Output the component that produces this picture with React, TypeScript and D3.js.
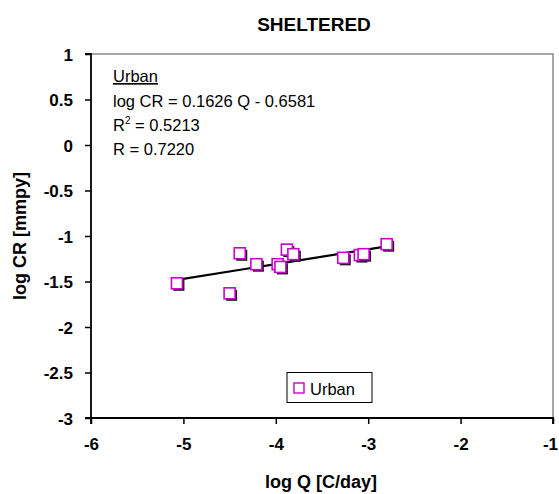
import React, { useEffect, useRef } from 'react';
import * as d3 from 'd3';

// values
const logQ = [-5.07, -4.39, -4.5, -4.21, -3.98, -3.95, -3.88, -3.81, -3.27, -3.09, -3.05, -2.8];
const logCR = [-1.52, -1.19, -1.63, -1.31, -1.31, -1.34, -1.15, -1.2, -1.24, -1.21, -1.2, -1.09];
const xTicks = [-6, -5, -4, -3, -2, -1];
const yTicks = [1, 0.5, 0, -0.5, -1, -1.5, -2, -2.5, -3];
const fitSlope = 0.1626;
const fitIntercept = -0.6581;
const annotation = ['log CR = 0.1626 Q - 0.6581', '0.5213', 'R = 0.7220'];

const W = 559;
const H = 494;
const FONT = '"Liberation Sans", Arial, sans-serif';

const App = () => {
  const ref = useRef<SVGSVGElement>(null);

  useEffect(() => {
    const svg = d3.select(ref.current);
    svg.selectAll('*').remove();

    const left = 91, right = 553, top = 54, bottom = 418;
    const x = d3.scaleLinear().domain([-6, -1]).range([left, right]);
    const y = d3.scaleLinear().domain([-3, 1]).range([bottom, top]);

    svg.append('rect').attr('width', W).attr('height', H).attr('fill', '#fff');

    // plot border (top/right grey)
    svg.append('path')
      .attr('d', `M${left},${top}H${right}V${bottom}`)
      .attr('fill', 'none')
      .attr('stroke', '#8a8a8a')
      .attr('stroke-width', 1.5);

    const yAxis = svg.append('g')
      .attr('transform', `translate(${left},0)`)
      .call(d3.axisLeft(y).tickValues(yTicks).tickSize(6).tickPadding(12).tickFormat(d => String(d)));
    const xAxis = svg.append('g')
      .attr('transform', `translate(0,${bottom})`)
      .call(d3.axisBottom(x).tickValues(xTicks).tickSize(6).tickPadding(14).tickFormat(d => String(d)));

    [yAxis, xAxis].forEach(g => {
      g.select('.domain').attr('stroke', '#000').attr('stroke-width', 1.8);
      g.selectAll('.tick line').attr('stroke', '#000').attr('stroke-width', 1.5);
      g.selectAll('.tick text')
        .attr('fill', '#000')
        .attr('font-family', FONT)
        .attr('font-size', 17)
        .attr('font-weight', 'bold');
    });
    yAxis.select('.domain').attr('d', `M-6,${top}H0V${bottom}H-6`);
    yAxis.selectAll('.tick text').attr('dy', '0.36em');
    xAxis.select('.domain').attr('d', `M${left},6V0H${right}V6`);
    // last label sits against the right edge, as in the reference
    xAxis.selectAll('.tick text').filter(d => d === -1).attr('x', -3);

    // trend line
    const xs = d3.extent(logQ) as [number, number];
    svg.append('line')
      .attr('x1', x(xs[0])).attr('y1', y(fitSlope * xs[0] + fitIntercept))
      .attr('x2', x(xs[1])).attr('y2', y(fitSlope * xs[1] + fitIntercept))
      .attr('stroke', '#000')
      .attr('stroke-width', 2.2);

    // markers with shadow
    const s = 11;
    const pts = logQ.map((q, i) => ({ q, c: logCR[i] }));
    const mk = svg.append('g');
    pts.forEach(p => {
      const g = mk.append('g');
      g.append('rect')
        .attr('x', x(p.q) - s / 2 + 2).attr('y', y(p.c) - s / 2 + 2)
        .attr('width', s).attr('height', s)
        .attr('fill', '#1a1a1a');
      g.append('rect')
        .attr('x', x(p.q) - s / 2).attr('y', y(p.c) - s / 2)
        .attr('width', s).attr('height', s)
        .attr('fill', '#fff')
        .attr('stroke', '#cc00cc')
        .attr('stroke-width', 1.6);
    });

    // annotation
    const ann = svg.append('g').attr('font-family', FONT).attr('font-size', 16.5).attr('fill', '#000');
    ann.append('text').attr('x', 113).attr('y', 82).attr('text-decoration', 'underline').text('Urban');
    ann.append('text').attr('x', 113).attr('y', 107).text(annotation[0]);
    const r2 = ann.append('text').attr('x', 113).attr('y', 131);
    r2.append('tspan').text('R');
    r2.append('tspan').attr('font-size', 10).attr('dy', -7).text('2');
    r2.append('tspan').attr('dy', 7).text(' = ' + annotation[1]);
    ann.append('text').attr('x', 113).attr('y', 155).text(annotation[2]);

    // legend
    const lg = svg.append('g');
    lg.append('rect')
      .attr('x', 287).attr('y', 372.5).attr('width', 85).attr('height', 30)
      .attr('fill', '#fff').attr('stroke', '#000').attr('stroke-width', 1);
    lg.append('rect')
      .attr('x', 294).attr('y', 383).attr('width', 10).attr('height', 10)
      .attr('fill', '#fff').attr('stroke', '#cc00cc').attr('stroke-width', 1.4);
    lg.append('text')
      .attr('x', 310).attr('y', 395)
      .attr('font-family', FONT).attr('font-size', 16.5).text('Urban');

    // titles
    svg.append('text')
      .attr('x', 314).attr('y', 31).attr('text-anchor', 'middle')
      .attr('font-family', FONT).attr('font-size', 19).attr('font-weight', 'bold')
      .text('SHELTERED');
    svg.append('text')
      .attr('x', 321).attr('y', 488).attr('text-anchor', 'middle')
      .attr('font-family', FONT).attr('font-size', 18).attr('font-weight', 'bold')
      .text('log Q [C/day]');
    svg.append('text')
      .attr('transform', `translate(26,236) rotate(-90)`).attr('text-anchor', 'middle')
      .attr('font-family', FONT).attr('font-size', 18).attr('font-weight', 'bold')
      .text('log CR [mmpy]');
  }, []);

  return <svg ref={ref} width={W} height={H} style={{ position: 'absolute', left: 0, top: 0 }} />;
};

export default App;
